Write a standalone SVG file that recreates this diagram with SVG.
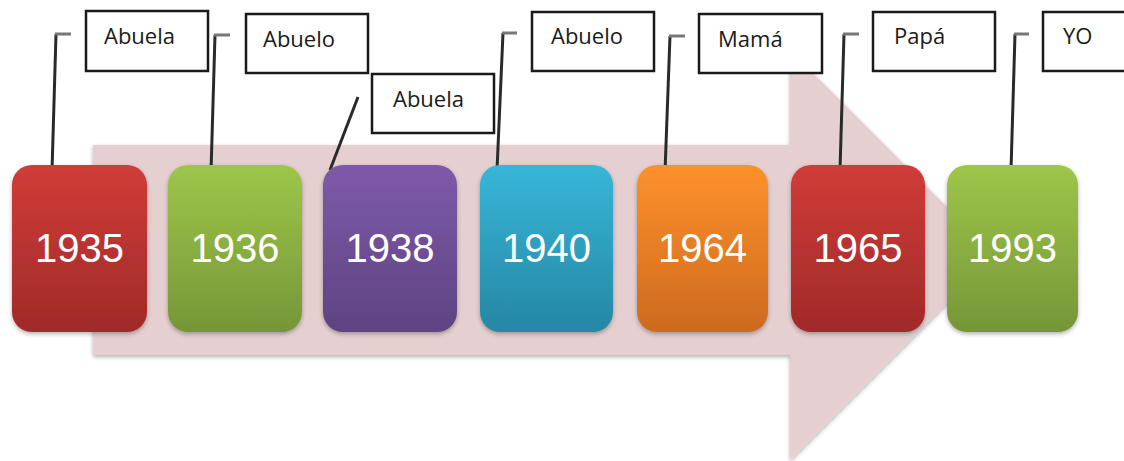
<svg xmlns="http://www.w3.org/2000/svg" width="1124" height="461" viewBox="0 0 1124 461">
<defs>
<linearGradient id="gRed" x1="0" y1="0" x2="0" y2="1"><stop offset="0" stop-color="#d03c38"/><stop offset="1" stop-color="#a02a29"/></linearGradient>
<linearGradient id="gGreen" x1="0" y1="0" x2="0" y2="1"><stop offset="0" stop-color="#9ec64a"/><stop offset="1" stop-color="#759638"/></linearGradient>
<linearGradient id="gPurple" x1="0" y1="0" x2="0" y2="1"><stop offset="0" stop-color="#7e5aa9"/><stop offset="1" stop-color="#5e4382"/></linearGradient>
<linearGradient id="gBlue" x1="0" y1="0" x2="0" y2="1"><stop offset="0" stop-color="#37b6d8"/><stop offset="1" stop-color="#2587a3"/></linearGradient>
<linearGradient id="gOrange" x1="0" y1="0" x2="0" y2="1"><stop offset="0" stop-color="#fd912b"/><stop offset="1" stop-color="#cd6a1f"/></linearGradient>
<filter id="sh" x="-10%" y="-10%" width="130%" height="130%"><feDropShadow dx="0" dy="2" stdDeviation="2" flood-color="#000" flood-opacity="0.3"/></filter>
</defs>
<style>
.yr{stroke:none;filter:url(#sh)}
.yt{font-family:"Liberation Sans",Arial,sans-serif;font-size:40px;fill:#ffffff;text-anchor:middle}
.lb{fill:#ffffff;stroke:#1a1a1a;stroke-width:2.5}
.lt{font-family:"Open Sans","Liberation Sans",sans-serif;font-size:22px;fill:#1a1a1a}
.ln{fill:none;stroke:#2a2a2a;stroke-width:3}
.tk{fill:none;stroke:#777;stroke-width:3}
</style>
<rect width="1124" height="461" fill="#ffffff"/>
<g id="arrow">
<path d="M93,145 H790 V50 L995,255 L790,460 V355 H93 Z" fill="#e5cfd0" filter="url(#sh)"/>
</g>
<g id="connectors">
<polyline class="ln" points="52,171 56,34"/><line class="tk" x1="55" y1="34" x2="71" y2="34"/>
<polyline class="ln" points="211,172 215,35"/><line class="tk" x1="214" y1="35" x2="230" y2="35"/>
<line class="ln" x1="358" y1="97" x2="330" y2="170"/>
<polyline class="ln" points="497,170 503,33"/><line class="tk" x1="502" y1="33" x2="517" y2="33"/>
<polyline class="ln" points="665,172 670,36"/><line class="tk" x1="669" y1="36" x2="685" y2="36"/>
<polyline class="ln" points="840,170 844,34"/><line class="tk" x1="843" y1="34" x2="859" y2="34"/>
<polyline class="ln" points="1011,170 1015,34"/><line class="tk" x1="1014" y1="34" x2="1029" y2="34"/>
</g>
<g id="y1935"><rect class="yr" x="12" y="165" width="135" height="167" rx="20" fill="url(#gRed)"/><text class="yt" x="79.5" y="262">1935</text></g>
<g id="y1936"><rect class="yr" x="168" y="165" width="134" height="167" rx="20" fill="url(#gGreen)"/><text class="yt" x="235" y="262">1936</text></g>
<g id="y1938"><rect class="yr" x="323" y="165" width="134" height="167" rx="20" fill="url(#gPurple)"/><text class="yt" x="390" y="262">1938</text></g>
<g id="y1940"><rect class="yr" x="480" y="165" width="133" height="167" rx="20" fill="url(#gBlue)"/><text class="yt" x="546.5" y="262">1940</text></g>
<g id="y1964"><rect class="yr" x="637" y="165" width="131" height="167" rx="20" fill="url(#gOrange)"/><text class="yt" x="702.5" y="262">1964</text></g>
<g id="y1965"><rect class="yr" x="791" y="165" width="134" height="167" rx="20" fill="url(#gRed)"/><text class="yt" x="858" y="262">1965</text></g>
<g id="y1993"><rect class="yr" x="947" y="165" width="131" height="167" rx="20" fill="url(#gGreen)"/><text class="yt" x="1012.5" y="262">1993</text></g>
<g id="l1"><rect class="lb" x="86" y="11" width="122" height="60"/><text class="lt" x="104" y="44">Abuela</text></g>
<g id="l2"><rect class="lb" x="246" y="14" width="122" height="59"/><text class="lt" x="263" y="47">Abuelo</text></g>
<g id="l3"><rect class="lb" x="372" y="74" width="122" height="59"/><text class="lt" x="393" y="107">Abuela</text></g>
<g id="l4"><rect class="lb" x="532" y="12" width="122" height="59"/><text class="lt" x="551" y="44">Abuelo</text></g>
<g id="l5"><rect class="lb" x="699" y="14" width="123" height="59"/><text class="lt" x="718" y="47">Mamá</text></g>
<g id="l6"><rect class="lb" x="873" y="12" width="122" height="59"/><text class="lt" x="894" y="44">Papá</text></g>
<g id="l7"><rect class="lb" x="1043" y="12" width="122" height="59"/><text class="lt" x="1063" y="44">YO</text></g>
</svg>
